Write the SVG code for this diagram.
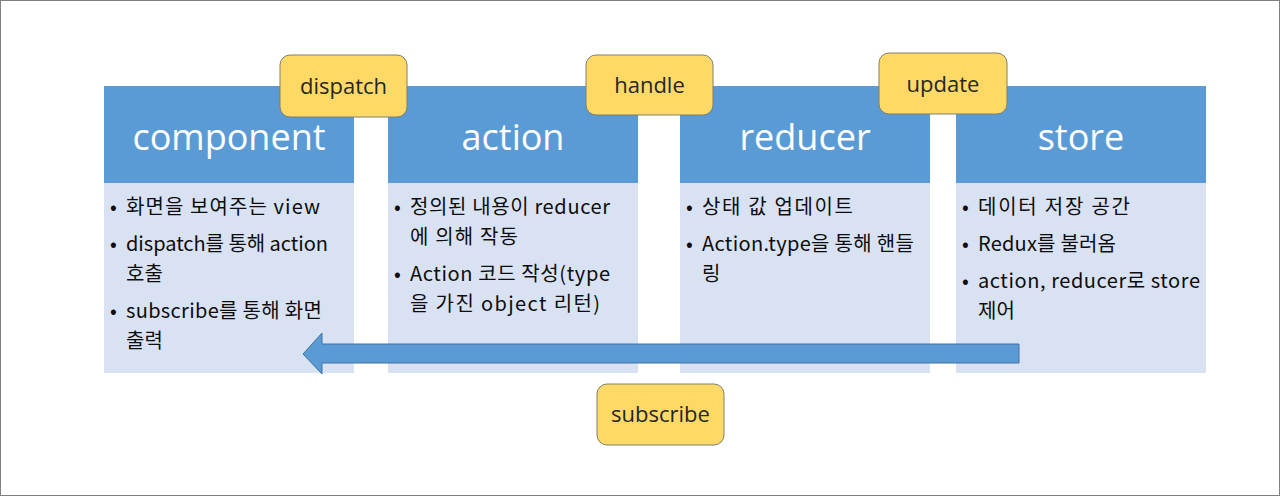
<svg xmlns="http://www.w3.org/2000/svg" width="1280" height="496" viewBox="0 0 1280 496">
<style>
.hd{fill:#5B9BD5}
.bd{fill:#D9E2F3}
.ht{font-family:"Open Sans","Noto Sans",sans-serif;font-size:36px;fill:#FFFFFF;text-anchor:middle}
.bt{font-family:"Noto Sans CJK KR","Noto Sans",sans-serif;font-size:20px;fill:#0D0D0D}
.lb{fill:#FFD966;stroke:#7F7F6F;stroke-width:1}
.lt{font-family:"Open Sans","Noto Sans",sans-serif;font-size:22px;fill:#262626;text-anchor:middle}
</style>
<rect x="0.5" y="0.5" width="1279" height="495" fill="#FFFFFF" stroke="#808080" stroke-width="1"/>
<g id="component">
<rect class="hd" x="104" y="86" width="250" height="97"/>
<rect class="bd" x="104" y="183" width="250" height="190"/>
<text class="ht" x="229" y="150">component</text>
<text class="bt" x="110" y="214">•</text>
<text class="bt" x="126" y="214" textLength="194" lengthAdjust="spacing">화면을 보여주는 view</text>
<text class="bt" x="110" y="251">•</text>
<text class="bt" x="126" y="251" textLength="202" lengthAdjust="spacing">dispatch를 통해 action</text>
<text class="bt" x="126" y="281">호출</text>
<text class="bt" x="110" y="318">•</text>
<text class="bt" x="126" y="318" textLength="196" lengthAdjust="spacing">subscribe를 통해 화면</text>
<text class="bt" x="126" y="348">출력</text>
</g>
<g id="action">
<rect class="hd" x="388" y="86" width="250" height="97"/>
<rect class="bd" x="388" y="183" width="250" height="190"/>
<text class="ht" x="513" y="150">action</text>
<text class="bt" x="394" y="214">•</text>
<text class="bt" x="410" y="214" textLength="200" lengthAdjust="spacing">정의된 내용이 reducer</text>
<text class="bt" x="410" y="244" textLength="108" lengthAdjust="spacing">에 의해 작동</text>
<text class="bt" x="394" y="281">•</text>
<text class="bt" x="410" y="281" textLength="200" lengthAdjust="spacing">Action 코드 작성(type</text>
<text class="bt" x="410" y="311" textLength="190" lengthAdjust="spacing">을 가진 object 리턴)</text>
</g>
<g id="reducer">
<rect class="hd" x="680" y="86" width="250" height="97"/>
<rect class="bd" x="680" y="183" width="250" height="190"/>
<text class="ht" x="805" y="150">reducer</text>
<text class="bt" x="686" y="214">•</text>
<text class="bt" x="702" y="214" textLength="151" lengthAdjust="spacing">상태 값 업데이트</text>
<text class="bt" x="686" y="251">•</text>
<text class="bt" x="702" y="251" textLength="212" lengthAdjust="spacing">Action.type을 통해 핸들</text>
<text class="bt" x="702" y="281">링</text>
</g>
<g id="store">
<rect class="hd" x="956" y="86" width="250" height="97"/>
<rect class="bd" x="956" y="183" width="250" height="190"/>
<text class="ht" x="1081" y="150">store</text>
<text class="bt" x="962" y="214">•</text>
<text class="bt" x="978" y="214" textLength="152" lengthAdjust="spacing">데이터 저장 공간</text>
<text class="bt" x="962" y="251">•</text>
<text class="bt" x="978" y="251" textLength="138" lengthAdjust="spacing">Redux를 불러옴</text>
<text class="bt" x="962" y="288">•</text>
<text class="bt" x="978" y="288" textLength="222" lengthAdjust="spacing">action, reducer로 store</text>
<text class="bt" x="978" y="318">제어</text>
</g>
<g id="connectors">
<polygon points="303,354 322,333 322,344 1019,344 1019,363 322,363 322,374" fill="#5B9BD5" stroke="#41719C" stroke-width="1"/>
</g>
<g id="label-dispatch">
<rect class="lb" x="280" y="55" width="127" height="62" rx="10"/>
<text class="lt" x="343.5" y="94">dispatch</text>
</g>
<g id="label-handle">
<rect class="lb" x="586" y="55" width="127" height="60" rx="10"/>
<text class="lt" x="649.5" y="93">handle</text>
</g>
<g id="label-update">
<rect class="lb" x="879" y="53" width="128" height="61" rx="10"/>
<text class="lt" x="943" y="92">update</text>
</g>
<g id="label-subscribe">
<rect class="lb" x="597" y="384" width="127" height="61" rx="10"/>
<text class="lt" x="660.5" y="422">subscribe</text>
</g>
</svg>
